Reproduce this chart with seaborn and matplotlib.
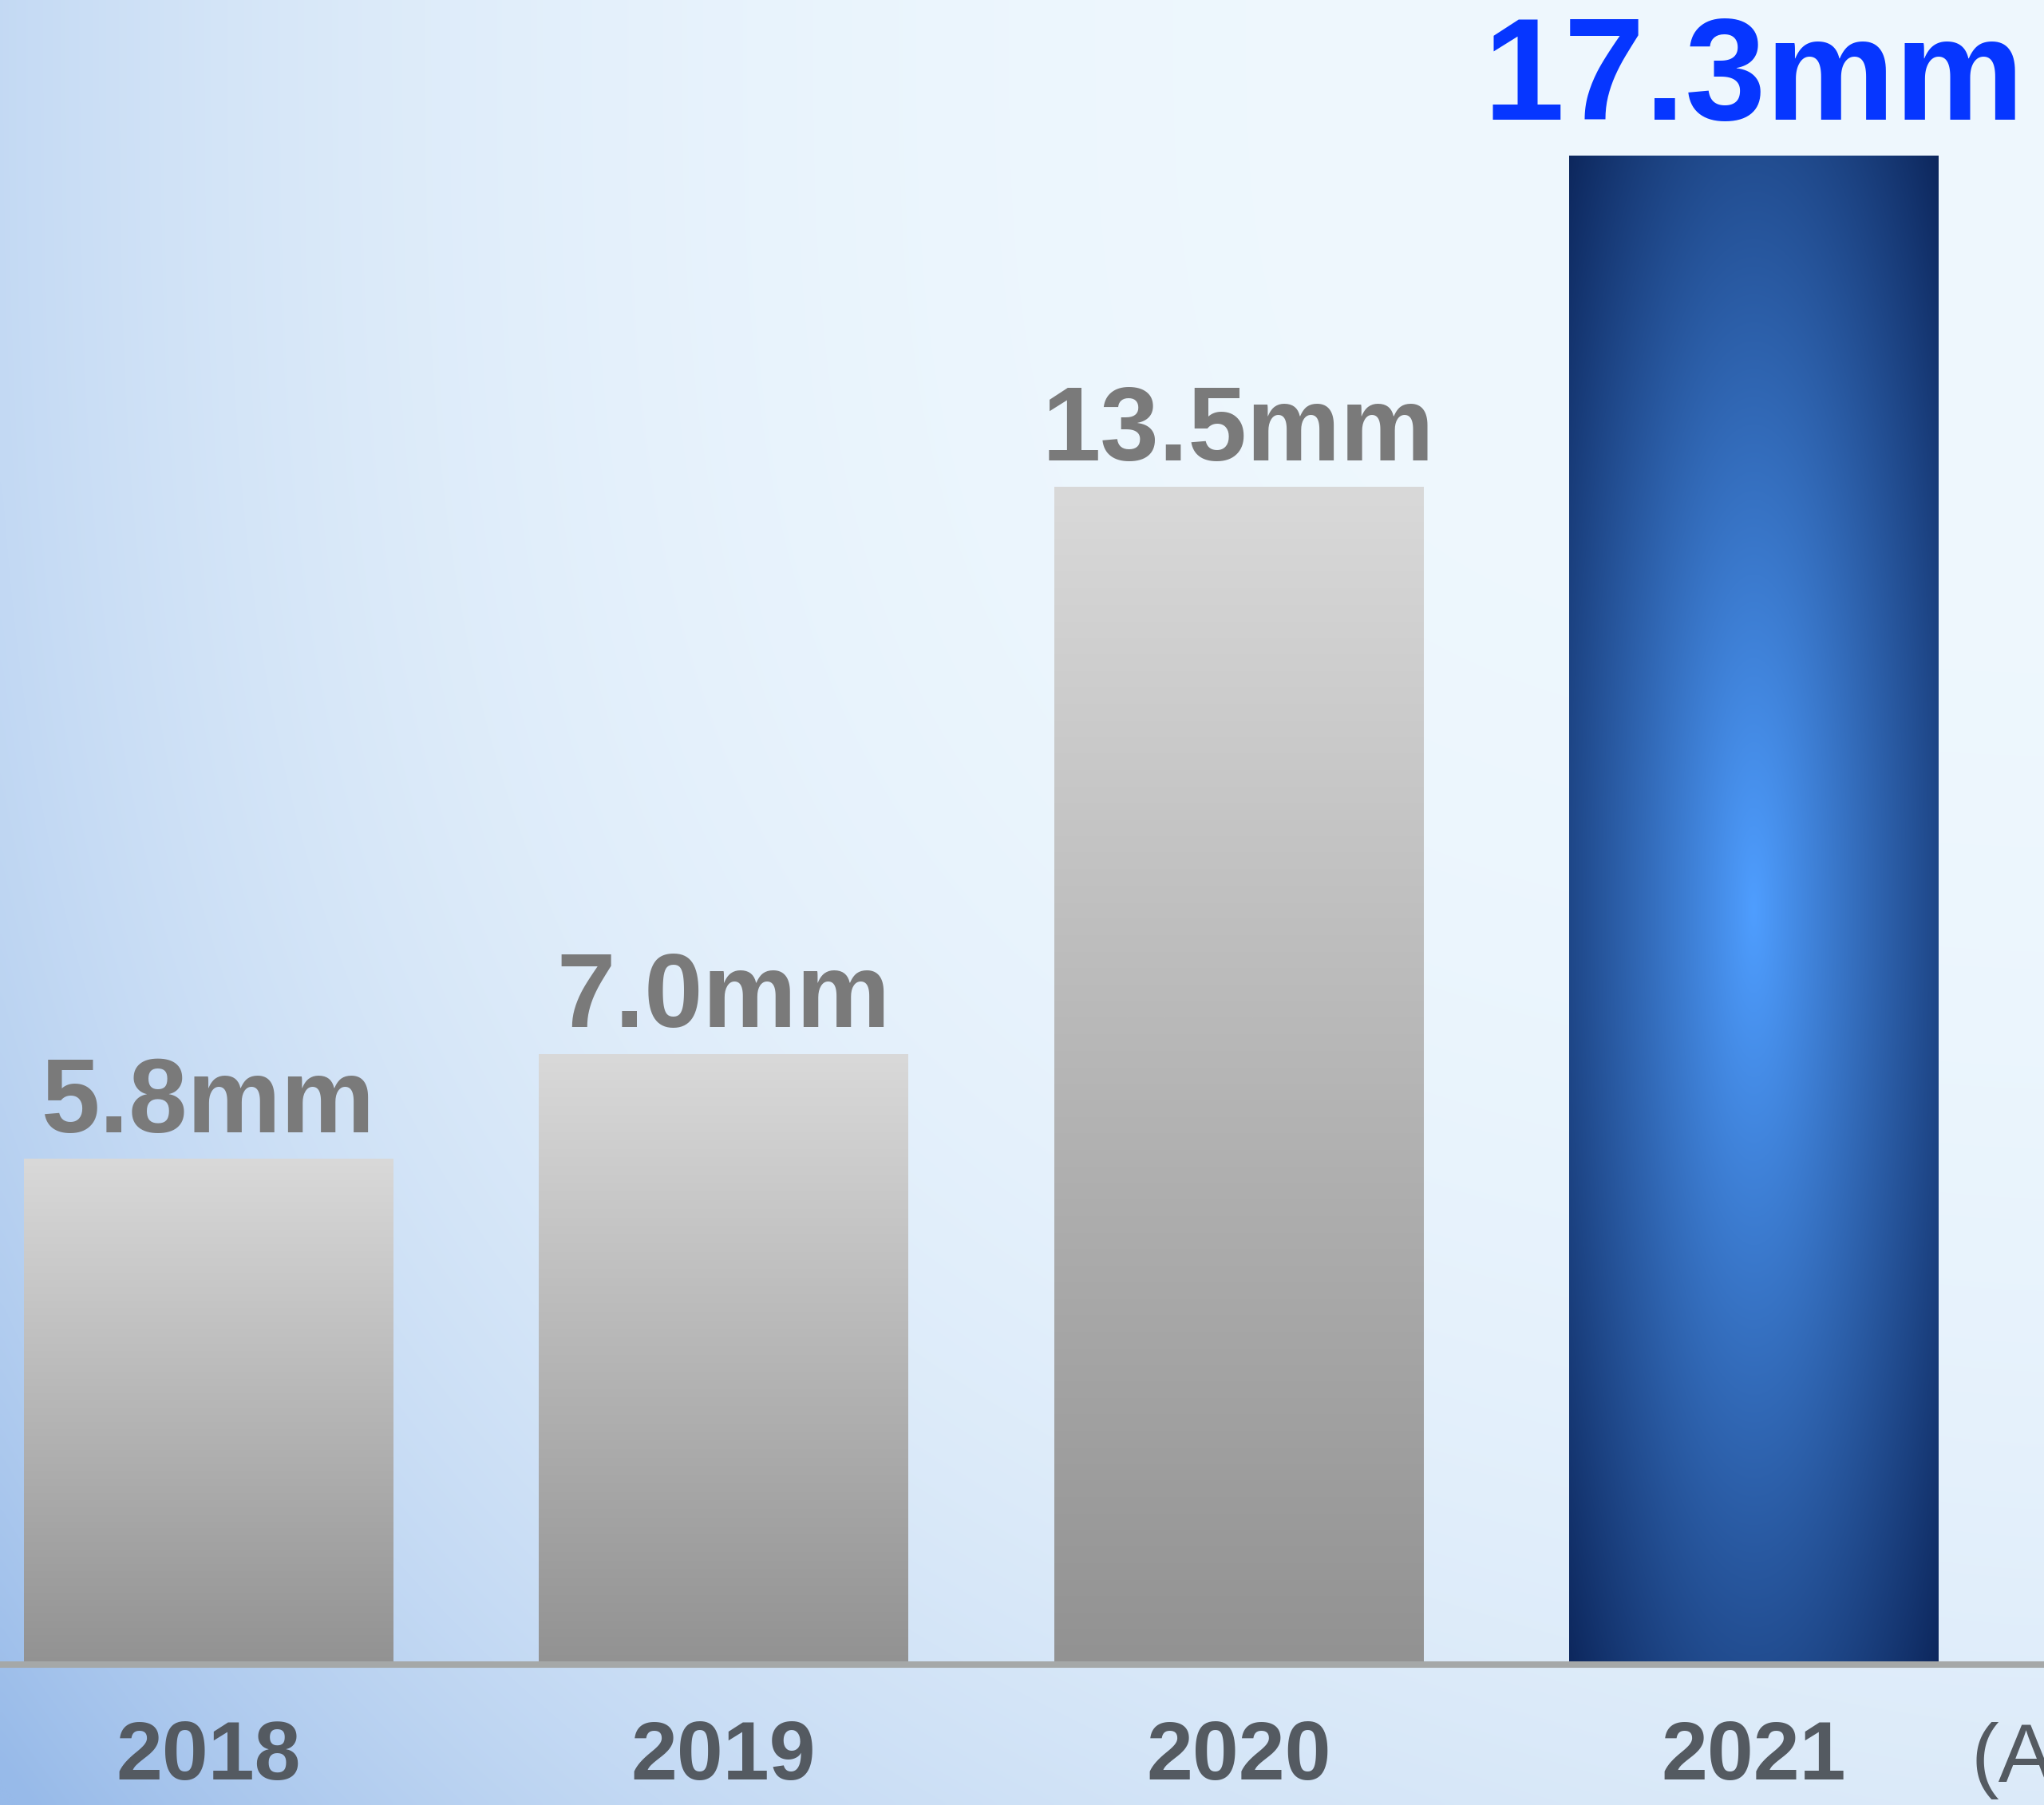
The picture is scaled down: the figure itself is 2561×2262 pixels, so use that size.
import numpy as np
import pandas as pd
import matplotlib
matplotlib.use("Agg")
import matplotlib.pyplot as plt
import seaborn as sns
from matplotlib.colors import to_rgb

# Data
years = ["2018", "2019", "2020", "2021"]
values = [5.8, 7.0, 13.5, 17.3]
value_labels = ["5.8mm", "7.0mm", "13.5mm", "17.3mm"]
highlight = "2021"

sns.set_theme(style="white")
plt.rcParams["font.family"] = ["Liberation Sans", "DejaVu Sans"]

W, H, DPI = 2561, 2262, 100
fig = plt.figure(figsize=(W / DPI, H / DPI), dpi=DPI)

# Soft blue page background: bluish along the left edge, deepest toward the
# lower left, almost white in the upper right
bg_ax = fig.add_axes([0, 0, 1, 1], zorder=-10)
gy, gx = np.mgrid[0:1:400j, 0:1:450j]          # gy: 0 top -> 1 bottom
f = 0.49 * (1 - gx) ** 4 + gy ** 3 * (0.22 + 0.32 * (1 - gx) ** 1.5)
f = np.clip(f, 0, 1)
c_light = np.array(to_rgb("#eff8fe"))
c_dark = np.array(to_rgb("#97bae9"))
bg = c_light[None, None, :] * (1 - f[..., None]) + c_dark[None, None, :] * f[..., None]
bg_ax.imshow(bg, extent=[0, 1, 0, 1], origin="upper", aspect="auto", interpolation="bicubic")
bg_ax.set_axis_off()

ax = fig.add_axes([0, (H - 2086) / H, 1, 2086 / H])
ax.patch.set_alpha(0)

df = pd.DataFrame({"year": years, "value": values})
sns.barplot(data=df, x="year", y="value", ax=ax, width=0.716,
            color="#aaaaaa", saturation=1, errorbar=None)

gray_top = np.array(to_rgb("#d9d9d9"))
gray_bot = np.array(to_rgb("#929292"))
blue_dark = np.array(to_rgb("#0a2256"))
blue_light = np.array(to_rgb("#4f9eff"))

for patch, yr in zip(ax.patches, years):
    x0, y0 = patch.get_x(), patch.get_y()
    w, h = patch.get_width(), patch.get_height()
    if yr == highlight:
        yy, xx = np.mgrid[-1:1:300j, -1:1:200j]
        r = np.sqrt(xx ** 2 + (0.93 * yy) ** 2)
        t = np.clip(1 - 0.7 * r, 0, 1)[..., None]
        img = blue_dark * (1 - t) + blue_light * t
    else:
        t = np.linspace(0, 1, 256)[:, None, None]   # 0 at top
        img = gray_top * (1 - t) + gray_bot * t
        img = np.repeat(img, 2, axis=1)
    im = ax.imshow(img, extent=[x0, x0 + w, y0, y0 + h], origin="upper",
                   aspect="auto", interpolation="bicubic", zorder=2)
    im.set_clip_path(patch)
    patch.set_facecolor("none")
    patch.set_edgecolor("none")

# Value labels above bars
for patch, yr, lab in zip(ax.patches, years, value_labels):
    cx = patch.get_x() + patch.get_width() / 2
    top = patch.get_height()
    if yr == highlight:
        ax.annotate(lab, (cx, top), xytext=(0, 32), textcoords="offset points",
                    ha="center", va="baseline", fontsize=131, fontweight="bold",
                    color="#0636ff")
    else:
        ax.annotate(lab, (cx, top), xytext=(0, 24), textcoords="offset points",
                    ha="center", va="baseline", fontsize=95, fontweight="bold",
                    color="#7a7a7a")

ax.set_xlim(-0.4045, 3.564)
ax.set_ylim(0, 19.08)
ax.set_xlabel("")
ax.set_ylabel("")
ax.set_yticks([])
ax.tick_params(axis="x", length=0, pad=50, labelsize=75, labelcolor="#545a61")
for lbl in ax.get_xticklabels():
    lbl.set_fontweight("bold")

for side in ["top", "left", "right"]:
    ax.spines[side].set_visible(False)
ax.spines["bottom"].set_color("#a5a8a8")
ax.spines["bottom"].set_linewidth(5.8)

# Unit note at the right end of the year row, running past the page edge
fig.text(2469 / W, 29 / H, "(Actual)", ha="left", va="baseline",
         fontsize=75, color="#545a61")

fig.savefig("out.png", dpi=DPI)
